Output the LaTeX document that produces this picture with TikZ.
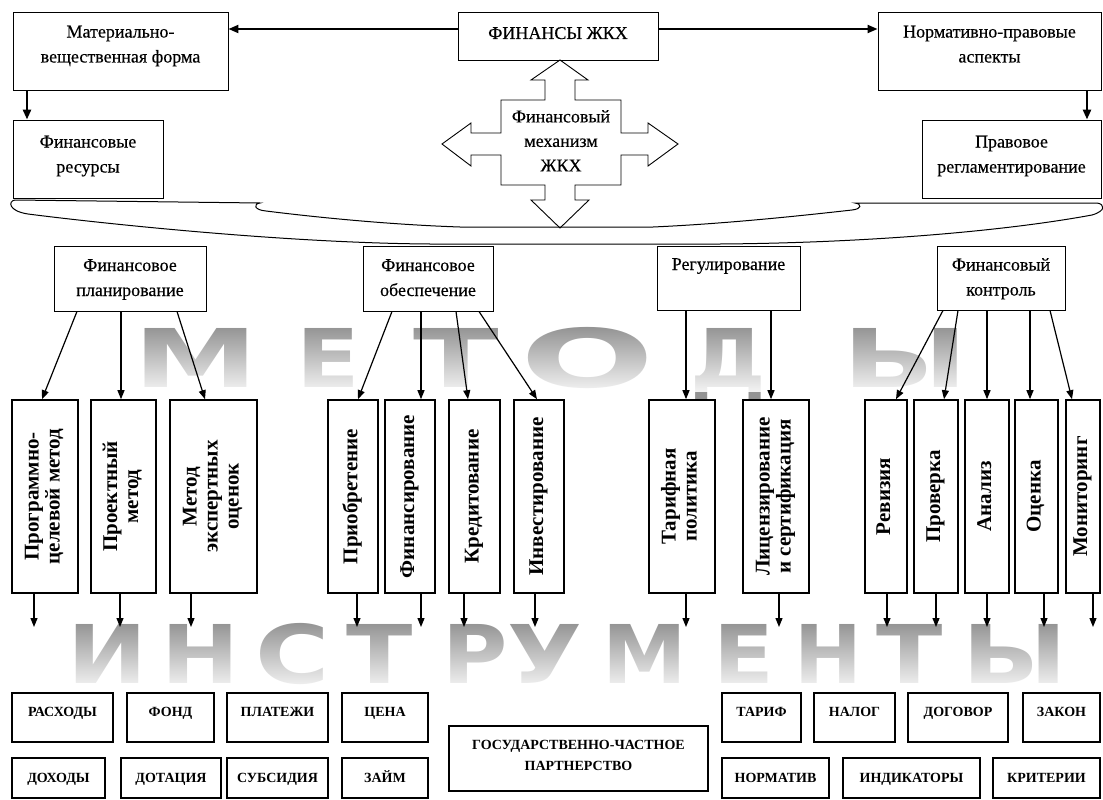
\documentclass[tikz,border=0pt]{standalone}
\usepackage{fontspec}
\usepackage{graphicx}
\setmainfont{Liberation Serif}
\newfontfamily\regfont[FakeBold=0.4]{Liberation Serif}
\newfontfamily\bigsans{DejaVu Sans}
\usetikzlibrary{arrows.meta,fadings}
\tikzfading[name=fadedown, top color=transparent!100, bottom color=transparent!10]
\newcommand\mytab[2][0pt]{\raisebox{#1}[\height][\depth]{\begin{tabular}{@{}c@{}}#2\end{tabular}}}
\newcommand\vtab[1]{\rotatebox{90}{\begin{tabular}{@{}c@{}}#1\end{tabular}}}
\begin{document}
\begin{tikzpicture}[x=1pt,y=-1pt,
 box/.style={draw, line width=0.9pt, inner sep=0pt, font=\regfont\fontsize{18}{25}\selectfont},
 wh/.style 2 args={minimum width=#1pt, minimum height=#2pt},
 vbox/.style={draw, line width=1.6pt, inner sep=0pt, font=\bfseries\fontsize{21}{21}\selectfont},
 ibox/.style={draw, line width=1.6pt, inner sep=0pt, font=\bfseries\fontsize{14}{21}\selectfont},
 arr/.style={line width=1.2pt, -{Triangle[length=9pt,width=7pt]}},
 bigarr/.style={line width=2pt, -{Triangle[length=10pt,width=8pt]}},
 bigl/.style={font=\bigsans\bfseries\fontsize{81}{81}\selectfont, text=gray!85, inner sep=0pt, anchor=base}
]
\useasboundingbox (0,0) rectangle (1103,800);

% big background words
\node[bigl] (m1) at (196,387) {\scalebox{1.55}[1]{М}};
\node[bigl] (m2) at (328,387) {\scalebox{1.15}[1]{Е}};
\node[bigl] (m3) at (456,387) {\scalebox{1.55}[1]{Т}};
\node[bigl] (m4) at (588,387) {\scalebox{1.95}[1]{О}};
\node[bigl] (m5) at (728,387) {\scalebox{1.05}[1]{Д}};
\node[bigl] (m6) at (905,387) {\scalebox{1.5}[1]{Ы}};
\node[bigl] (i1) at (107,683) {\scalebox{1.18}[1]{И}};
\node[bigl] (i2) at (200,683) {\scalebox{1.15}[1]{Н}};
\node[bigl] (i3) at (293,683) {\scalebox{1.25}[1]{С}};
\node[bigl] (i4) at (380,683) {\scalebox{1.2}[1]{Т}};
\node[bigl] (i5) at (475,683) {\scalebox{1.1}[1]{Р}};
\node[bigl] (i6) at (545,683) {\scalebox{1.2}[1]{У}};
\node[bigl] (i7) at (645,683) {\scalebox{1.05}[1]{М}};
\node[bigl] (i8) at (744,683) {\scalebox{1.1}[1]{Е}};
\node[bigl] (i9) at (828,683) {\scalebox{1.0}[1]{Н}};
\node[bigl] (i10) at (910,683) {\scalebox{1.2}[1]{Т}};
\node[bigl] (i11) at (1015,683) {\scalebox{1.25}[1]{Ы}};
\fill[white, path fading=fadedown] (0,326) rectangle (1103,392);
\fill[white, path fading=fadedown] (0,622) rectangle (1103,688);

% top boxes
\node[box, wh={215}{78}] (mat) at (120.5,51) {\mytab[6pt]{Материально-\\вещественная форма}};
\node[box, wh={200}{48}] (fin) at (558,36) {\mytab[2pt]{ФИНАНСЫ ЖКХ}};
\node[box, wh={223}{78}] (norm) at (989.5,51) {\mytab[6pt]{Нормативно-правовые\\аспекты}};
\node[box, wh={150}{78}] (res) at (88,159) {\mytab[4pt]{Финансовые\\ресурсы}};
\node[box, wh={179}{78}] (prav) at (1011.5,159) {\mytab[4pt]{Правовое\\регламентирование}};
\draw[bigarr] (fin.west |- 0,29) -- (mat.east |- 0,29);
\draw[bigarr] (fin.east |- 0,29) -- (norm.west |- 0,29);
\draw[bigarr, line width=2.5pt] (27,0 |- mat.south) -- (27,0 |- res.north);
\draw[bigarr, line width=2.5pt] (1087,0 |- norm.south) -- (1087,0 |- prav.north);

% cross arrow
\draw[line width=0.9pt] (560,60) -- (588,80) -- (575,80) -- (575,100) -- (621,100) -- (621,133)
  -- (648,133) -- (648,123) -- (678,144) -- (648,166) -- (648,155) -- (621,155) -- (621,185)
  -- (575,185) -- (575,200) -- (589,200) -- (560,228) -- (531,200) -- (545,200) -- (545,185)
  -- (501,185) -- (501,155) -- (471,155) -- (471,166) -- (442,144) -- (471,123) -- (471,133)
  -- (501,133) -- (501,100) -- (545,100) -- (545,80) -- (531,80) -- cycle;
\node[font=\regfont\fontsize{18}{24.5}\selectfont, inner sep=0pt] (mech) at (561,142) {\mytab{Финансовый\\механизм\\ЖКХ}};

% brace
\draw[line width=1pt] (15,200) -- (260,203) .. controls (253,204) and (254,210) .. (266,211)
  .. controls (330,219) and (400,225) .. (460,227) -- (653,227)
  .. controls (720,224) and (790,217) .. (852,210) .. controls (862,209) and (862,204) .. (855,203)
  -- (1097,203) .. controls (1105,204) and (1106,211) .. (1092,215)
  .. controls (1000,232) and (860,243) .. (720,244) -- (430,244)
  .. controls (280,243) and (90,222) .. (28,214) .. controls (8,211) and (8,201) .. (15,200) -- cycle;

% method groups
\node[box, wh={152}{65}] (gp) at (130,278.5) {\mytab{Финансовое\\планирование}};
\node[box, wh={130}{65}] (go) at (428,278.5) {\mytab{Финансовое\\обеспечение}};
\node[box, wh={143}{64}] (gr) at (728.5,278) {\mytab[13pt]{Регулирование}};
\node[box, wh={128}{64}] (gk) at (1001,278) {\mytab{Финансовый\\контроль}};

% vertical method boxes
\node[vbox, wh={66}{193}] (v1) at (45,496.5) {\vtab{Программно-\\целевой метод}};
\node[vbox, wh={65}{193}] (v2) at (123.5,496.5) {\vtab{Проектный\\метод}};
\node[vbox, wh={87}{193}] (v3) at (213.5,496.5) {\vtab{Метод\\экспертных\\оценок}};
\node[vbox, wh={50}{193}] (v4) at (353,496.5) {\vtab{Приобретение}};
\node[vbox, wh={50}{193}] (v5) at (410,496.5) {\vtab{Финансирование}};
\node[vbox, wh={51}{193}] (v6) at (474.5,496.5) {\vtab{Кредитование}};
\node[vbox, wh={50}{193}] (v7) at (539,496.5) {\vtab{Инвестирование}};
\node[vbox, wh={66}{193}] (v8) at (682,496.5) {\vtab{Тарифная\\политика}};
\node[vbox, wh={66}{193}] (v9) at (776,496.5) {\vtab{Лицензирование\\и сертификация}};
\node[vbox, wh={42}{193}] (v10) at (886,496.5) {\vtab{Ревизия}};
\node[vbox, wh={44}{193}] (v11) at (936,496.5) {\vtab{Проверка}};
\node[vbox, wh={44}{193}] (v12) at (987,496.5) {\vtab{Анализ}};
\node[vbox, wh={43}{193}] (v13) at (1036.5,496.5) {\vtab{Оценка}};
\node[vbox, wh={34}{193}] (v14) at (1083,496.5) {\vtab{Мониторинг}};

% arrows groups -> methods
\draw[arr] (77,0 |- gp.south) -- (42,0 |- v1.north);
\draw[arr] (121,0 |- gp.south) -- (121,0 |- v2.north);
\draw[arr] (177,0 |- gp.south) -- (205,0 |- v3.north);
\draw[arr] (392,0 |- go.south) -- (358,0 |- v4.north);
\draw[arr] (421,0 |- go.south) -- (421,0 |- v5.north);
\draw[arr] (456,0 |- go.south) -- (468,0 |- v6.north);
\draw[arr] (479,0 |- go.south) -- (537,0 |- v7.north);
\draw[arr] (686,0 |- gr.south) -- (686,0 |- v8.north);
\draw[arr] (771,0 |- gr.south) -- (771,0 |- v9.north);
\draw[arr] (943,0 |- gk.south) -- (896,0 |- v10.north);
\draw[arr] (958,0 |- gk.south) -- (944,0 |- v11.north);
\draw[arr] (987,0 |- gk.south) -- (987,0 |- v12.north);
\draw[arr] (1030,0 |- gk.south) -- (1030,0 |- v13.north);
\draw[arr] (1050,0 |- gk.south) -- (1072,0 |- v14.north);

% arrows methods -> instruments
\foreach \n/\x in {1/34,2/120,3/191,4/357,5/421,6/464,7/535,8/686,9/779,10/887,11/936,12/987,13/1044,14/1093}{
  \coordinate (e\n) at (\x,627);
  \draw[arr] (v\n.south -| e\n) -- (e\n);
}

% instrument boxes
\node[ibox, wh={101}{49}] (r1) at (62.5,717.5) {\mytab[5pt]{РАСХОДЫ}};
\node[ibox, wh={87}{49}] (r2) at (170.5,717.5) {\mytab[5pt]{ФОНД}};
\node[ibox, wh={101}{49}] (r3) at (277.5,717.5) {\mytab[5pt]{ПЛАТЕЖИ}};
\node[ibox, wh={86}{49}] (r4) at (385,717.5) {\mytab[5pt]{ЦЕНА}};
\node[ibox, wh={93}{40}] (s1) at (58.5,778) {\mytab{ДОХОДЫ}};
\node[ibox, wh={100}{40}] (s2) at (171,778) {\mytab{ДОТАЦИЯ}};
\node[ibox, wh={101}{40}] (s3) at (277.5,778) {\mytab{СУБСИДИЯ}};
\node[ibox, wh={86}{40}] (s4) at (385,778) {\mytab{ЗАЙМ}};
\node[ibox, wh={259}{65}] (gchp) at (578.5,758.5) {\mytab[3pt]{ГОСУДАРСТВЕННО-ЧАСТНОЕ\\ПАРТНЕРСТВО}};
\node[ibox, wh={79}{49}] (r5) at (761.5,717.5) {\mytab[5pt]{ТАРИФ}};
\node[ibox, wh={81}{49}] (r6) at (854.5,717.5) {\mytab[5pt]{НАЛОГ}};
\node[ibox, wh={100}{49}] (r7) at (958,717.5) {\mytab[5pt]{ДОГОВОР}};
\node[ibox, wh={77}{49}] (r8) at (1061.5,717.5) {\mytab[5pt]{ЗАКОН}};
\node[ibox, wh={107}{40}] (s5) at (775.5,778) {\mytab{НОРМАТИВ}};
\node[ibox, wh={137}{40}] (s6) at (911.5,778) {\mytab{ИНДИКАТОРЫ}};
\node[ibox, wh={107}{40}] (s7) at (1046.5,778) {\mytab{КРИТЕРИИ}};
\end{tikzpicture}
\end{document}
